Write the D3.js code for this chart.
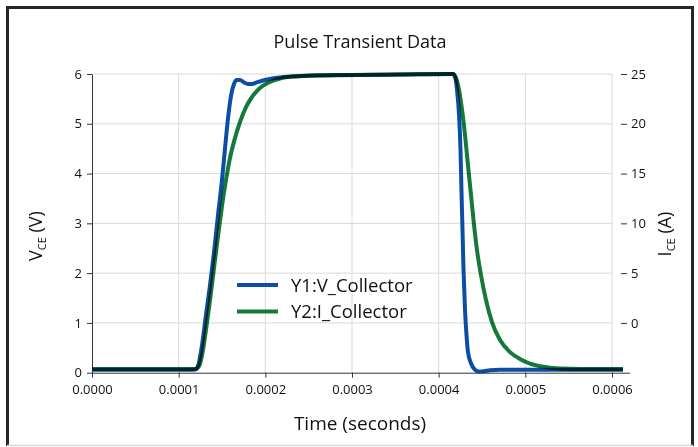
<!DOCTYPE html>
<html><head><meta charset="utf-8">
<script src="https://cdn.jsdelivr.net/npm/d3@7"></script>
<style>
html,body{margin:0;padding:0;background:#fff;}
svg{display:block;font-family:"Open Sans",sans-serif;}
</style></head>
<body><svg id="c" width="698" height="447"></svg>
<script>
// ---- data ----
const title = "Pulse Transient Data";
const xTicks = [0, 0.0001, 0.0002, 0.0003, 0.0004, 0.0005, 0.0006];
const xTickLabels = ["0.0000","0.0001","0.0002","0.0003","0.0004","0.0005","0.0006"];
const leftTicks = [0,1,2,3,4,5,6];
const rightTicks = [0,5,10,15,20,25];
const seriesNames = ["Y1:V_Collector","Y2:I_Collector"];

const timeV = [0,0.0000669,0.000113,0.00012,0.0001235,0.000127,0.0001315,0.0001362,0.0001408,0.0001454,0.00015,0.0001535,0.000157,0.0001604,0.0001638,0.0001673,0.0001708,0.0001754,0.00018,0.0001846,0.00019,0.0001996,0.0002112,0.0002285,0.0002515,0.0002977,0.0003554,0.000413,0.0004165,0.0004188,0.0004212,0.0004235,0.0004252,0.0004263,0.0004275,0.0004287,0.0004304,0.0004321,0.0004338,0.0004373,0.0004419,0.0004465,0.0004523,0.0004592,0.0004708,0.0006127];
const voltage = [0.06,0.06,0.06,0.07,0.21,0.56,1.16,1.76,2.42,3.17,3.87,4.51,5.12,5.56,5.80,5.88,5.88,5.83,5.80,5.80,5.83,5.88,5.92,5.95,5.97,5.98,5.99,6.00,6.00,5.94,5.68,5.18,4.47,3.67,2.87,2.06,1.26,0.76,0.42,0.19,0.06,0.024,0.03,0.05,0.06,0.06];

const timeI = [0,0.0001188,0.0001235,0.000127,0.0001315,0.0001362,0.0001408,0.0001454,0.00015,0.0001546,0.0001592,0.000165,0.0001708,0.0001777,0.0001846,0.0001938,0.0002054,0.0002169,0.0002342,0.0002631,0.0003554,0.0004165,0.00042,0.0004235,0.000427,0.0004304,0.0004338,0.0004373,0.0004408,0.0004442,0.0004488,0.0004546,0.0004615,0.0004708,0.0004823,0.0004938,0.0005054,0.0005227,0.00054,0.0005631,0.0006127];
const current = [-4.63,-4.63,-4.33,-3.22,-0.71,2.30,5.52,8.73,11.74,14.35,16.56,18.57,20.18,21.68,22.69,23.59,24.20,24.55,24.75,24.85,24.95,25.0,24.6,23.39,21.38,18.87,15.86,12.85,9.83,7.32,4.81,2.30,0.09,-1.72,-2.93,-3.62,-4.08,-4.43,-4.58,-4.63,-4.63];

// ---- layout ----
const svg = d3.select("#c");
const L = 92, R = 612, T = 74, B = 372.7, AXR = 630;
const x = d3.scaleLinear().domain([0, 0.0006]).range([L, R]);
const yL = d3.scaleLinear().domain([0, 6]).range([B, T]);
const yR = d3.scaleLinear().domain([-5, 25]).range([B, T]);

// frame
svg.append("path").attr("d","M7.5,446 V7.5 H692.5 V446").attr("fill","none").attr("stroke","#262626").attr("stroke-width",3);
svg.append("line").attr("x1",7).attr("x2",693).attr("y1",445.5).attr("y2",445.5).attr("stroke","#d8d8d8").attr("stroke-width",1.5);

// title
svg.append("text").attr("x",360).attr("y",48).attr("text-anchor","middle").attr("font-size",18).attr("fill","#111").text(title);

// grid
const g = svg.append("g");
g.selectAll(".hg").data(leftTicks.filter(d=>d>0)).join("line")
 .attr("x1",L).attr("x2",R).attr("y1",d=>yL(d)).attr("y2",d=>yL(d)).attr("stroke","#d9d9d9").attr("stroke-width",1);
g.selectAll(".vg").data(xTicks.filter(d=>d>0)).join("line")
 .attr("x1",d=>x(d)).attr("x2",d=>x(d)).attr("y1",T).attr("y2",B).attr("stroke","#d9d9d9").attr("stroke-width",1);

// axes
const xAxis = d3.axisBottom(x).tickValues(xTicks).tickFormat((d,i)=>xTickLabels[i]).tickSize(5).tickSizeOuter(0).tickPadding(7);
const gx = svg.append("g").attr("transform",`translate(0,${B})`).call(xAxis);
gx.select(".domain").attr("d",`M${L},0.5H${AXR}`).attr("stroke","#333");
gx.selectAll(".tick line").attr("stroke","#333");
gx.selectAll("text").attr("font-size",13).attr("fill","#111").attr("font-family","Open Sans");

const yAxisL = d3.axisLeft(yL).tickValues(leftTicks).tickFormat(d3.format("d")).tickSize(5).tickSizeOuter(0).tickPadding(5);
const gy = svg.append("g").attr("transform",`translate(${L},0)`).call(yAxisL);
gy.select(".domain").attr("stroke","#333");
gy.selectAll(".tick line").attr("stroke","#333");
gy.selectAll("text").attr("font-size",13).attr("fill","#111").attr("font-family","Open Sans");

const yAxisR = d3.axisRight(yR).tickValues(rightTicks).tickSize(6).tickSizeOuter(0).tickPadding(4);
const gr = svg.append("g").attr("transform",`translate(621,0)`).call(yAxisR);
gr.select(".domain").remove();
gr.selectAll(".tick line").attr("stroke","#333");
gr.selectAll("text").attr("font-size",13).attr("fill","#111").attr("font-family","Open Sans");

// axis titles
svg.append("text").attr("x",360).attr("y",430).attr("text-anchor","middle").attr("font-size",19).attr("fill","#111").text("Time (seconds)");
const tl = svg.append("text").attr("transform","translate(42,236) rotate(-90)").attr("text-anchor","middle").attr("font-size",18).attr("fill","#111");
tl.append("tspan").text("V");
tl.append("tspan").attr("font-size",11).attr("dy",4).text("CE");
tl.append("tspan").attr("dy",-4).text(" (V)");
const tr = svg.append("text").attr("transform","translate(671,234) rotate(-90)").attr("text-anchor","middle").attr("font-size",18).attr("fill","#111");
tr.append("tspan").text("I");
tr.append("tspan").attr("font-size",11).attr("dy",4).text("CE");
tr.append("tspan").attr("dy",-4).text(" (A)");

// lines
const blue = "#0c4ea5", green = "#14793a";
const lineV = d3.line().x((d,i)=>x(timeV[i])).y(d=>yL(d)).curve(d3.curveMonotoneX);
const lineI = d3.line().x((d,i)=>x(timeI[i])).y(d=>yR(d)).curve(d3.curveMonotoneX);
svg.append("path").attr("d",lineV(voltage)).attr("fill","none").attr("stroke",blue).attr("stroke-width",4);
svg.append("path").attr("d",lineI(current)).attr("fill","none").attr("stroke",green).attr("stroke-width",4).style("mix-blend-mode","multiply");

// legend
const leg = svg.append("g");
[blue, green].forEach((c,i)=>{
  const yy = 285 + i*26.5;
  leg.append("line").attr("x1",237).attr("x2",278).attr("y1",yy).attr("y2",yy).attr("stroke",c).attr("stroke-width",4);
  leg.append("text").attr("x",291).attr("y",yy+6.5).attr("font-size",18.5).attr("fill","#111").text(seriesNames[i]);
});
</script></body></html>
